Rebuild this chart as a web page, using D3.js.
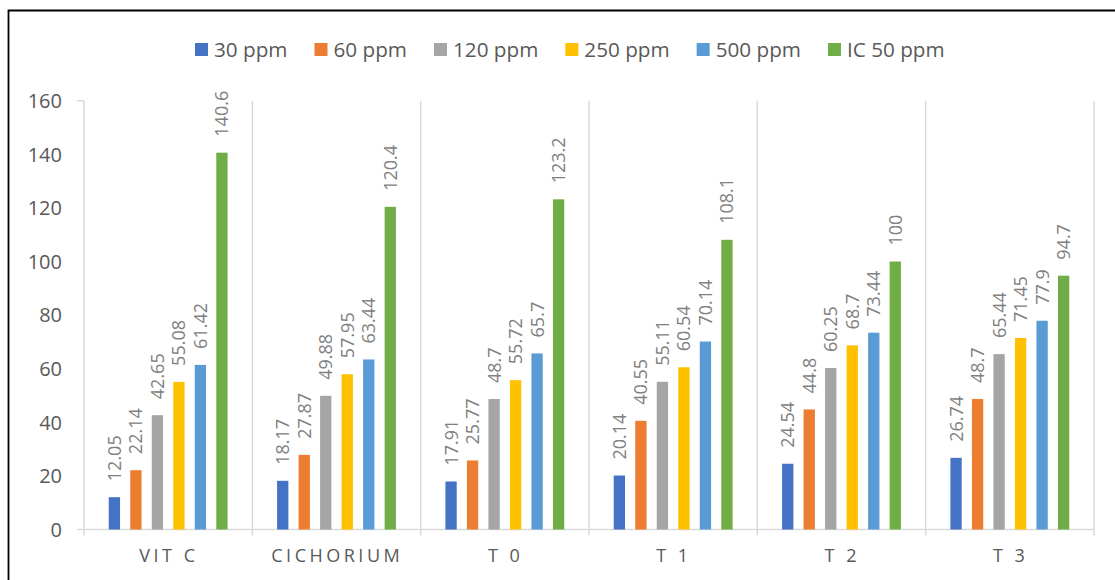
<!DOCTYPE html>
<html>
<head>
<meta charset="utf-8">
<script src="https://cdn.jsdelivr.net/npm/d3@7"></script>
<style>
  html, body { margin: 0; padding: 0; background: #fff; }
  svg { display: block; font-family: "Open Sans", "Noto Sans", "Liberation Sans", sans-serif; }
</style>
</head>
<body>
<svg id="chart" width="1115" height="580"></svg>
<script>
// Categories and series
const categories = ["VIT C", "CICHORIUM", "T 0", "T 1", "T 2", "T 3"];
const seriesNames = ["30 ppm", "60 ppm", "120 ppm", "250 ppm", "500 ppm", "IC 50 ppm"];
const seriesColors = ["#4472C4", "#ED7D31", "#A5A5A5", "#FFC000", "#5B9BD5", "#70AD47"];

// Values per series, one entry per category
const ppm30  = [12.05, 18.17, 17.91, 20.14, 24.54, 26.74];
const ppm60  = [22.14, 27.87, 25.77, 40.55, 44.8, 48.7];
const ppm120 = [42.65, 49.88, 48.7, 55.11, 60.25, 65.44];
const ppm250 = [55.08, 57.95, 55.72, 60.54, 68.7, 71.45];
const ppm500 = [61.42, 63.44, 65.7, 70.14, 73.44, 77.9];
const ic50   = [140.6, 120.4, 123.2, 108.1, 100, 94.7];

const yTicks = [0, 20, 40, 60, 80, 100, 120, 140, 160];

const seriesValues = [ppm30, ppm60, ppm120, ppm250, ppm500, ic50];

const svg = d3.select("#chart");

// Outer frame (left and top edges)
svg.append("path")
  .attr("d", "M8.5,580 L8.5,10.5 L1115,10.5")
  .attr("fill", "none")
  .attr("stroke", "#000")
  .attr("stroke-width", 1.8);

const plot = { left: 84, right: 1094, top: 100.7, bottom: 529.5 };

const x0 = d3.scaleBand().domain(categories).range([plot.left, plot.right]).padding(0);
const x1 = d3.scaleBand().domain(seriesNames).range([0, x0.bandwidth()])
  .paddingInner(0.474).paddingOuter(1.15);
const y = d3.scaleLinear().domain([0, 160]).range([plot.bottom, plot.top]);

const gridColor = "#d9d9d9";

// Category separators (extend below the baseline as tick marks)
const seps = d3.range(categories.length + 1).map(i => plot.left + i * x0.step());
svg.append("g").selectAll("line").data(seps).join("line")
  .attr("x1", d => d).attr("x2", d => d)
  .attr("y1", plot.top).attr("y2", plot.bottom + 6)
  .attr("stroke", gridColor).attr("stroke-width", 1.5);

// Baseline and top tick of value axis
svg.append("line")
  .attr("x1", plot.left - 7).attr("x2", plot.right)
  .attr("y1", plot.bottom).attr("y2", plot.bottom)
  .attr("stroke", gridColor).attr("stroke-width", 1.5);
svg.append("line")
  .attr("x1", plot.left - 7).attr("x2", plot.left)
  .attr("y1", y(160)).attr("y2", y(160))
  .attr("stroke", gridColor).attr("stroke-width", 1.5);

// Value axis labels
svg.append("g").selectAll("text").data(yTicks).join("text")
  .attr("x", 62).attr("y", d => y(d))
  .attr("dy", "0.36em")
  .attr("text-anchor", "end")
  .attr("fill", "#595959")
  .style("font-size", "20px")
  .text(d => d);

// Bars and value labels
const groups = svg.append("g").selectAll("g").data(categories).join("g")
  .attr("transform", d => `translate(${x0(d)},0)`);

groups.each(function(cat, ci) {
  const g = d3.select(this);
  seriesNames.forEach((s, si) => {
    const v = seriesValues[si][ci];
    const bx = x1(s);
    g.append("rect")
      .attr("x", bx).attr("width", x1.bandwidth())
      .attr("y", y(v)).attr("height", y(0) - y(v))
      .attr("fill", seriesColors[si]);
    const cx = bx + x1.bandwidth() / 2;
    const ty = y(v) - 16;
    g.append("text")
      .attr("transform", `translate(${cx},${ty}) rotate(-90)`)
      .attr("dy", "0.36em")
      .attr("text-anchor", "start")
      .attr("fill", "#808080")
      .style("font-size", "18px")
      .text(v);
  });
});

// Category labels
const catSpacing = 3.5;
svg.append("g").selectAll("text").data(categories).join("text")
  .attr("x", d => x0(d) + x0.bandwidth() / 2 + catSpacing / 2 - 1)
  .attr("y", 562)
  .attr("text-anchor", "middle")
  .attr("fill", "#595959")
  .style("font-size", "18px")
  .style("letter-spacing", catSpacing + "px")
  .text(d => d);

// Legend
const legend = svg.append("g");
let lx = 195;
seriesNames.forEach((s, i) => {
  legend.append("rect")
    .attr("x", lx).attr("y", 43).attr("width", 13).attr("height", 13)
    .attr("fill", seriesColors[i]);
  const t = legend.append("text")
    .attr("x", lx + 19).attr("y", 56.5)
    .attr("fill", "#595959")
    .style("font-size", "20.7px")
    .text(s);
  lx += 19 + t.node().getComputedTextLength() + 27;
});
</script>
</body>
</html>
